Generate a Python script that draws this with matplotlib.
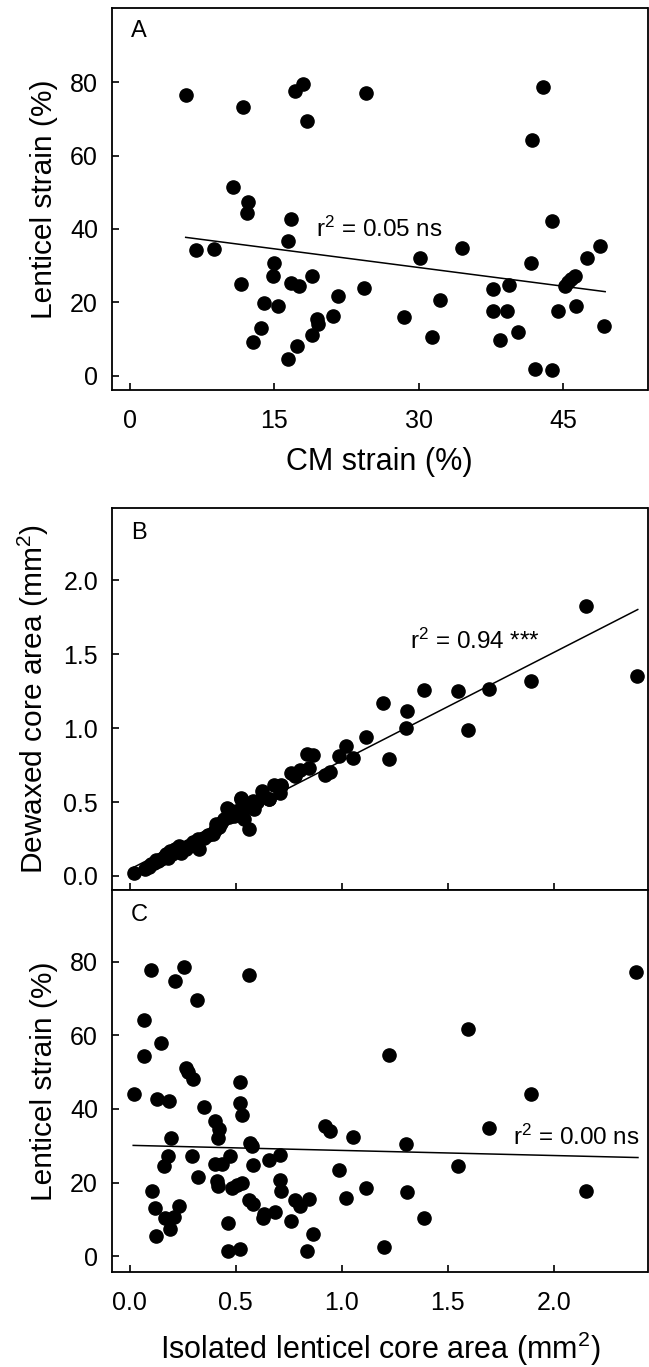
import matplotlib
matplotlib.use("Agg")
import matplotlib.pyplot as plt

plt.rcParams['font.family'] = ['Liberation Sans', 'DejaVu Sans']
plt.rcParams['mathtext.default'] = 'regular'

# Panel A: CM strain vs lenticel strain
a_cm = [5.8, 11.8, 17.2, 18.0, 18.4, 24.5, 42.9, 41.8, 10.7, 12.3, 12.2, 16.7, 43.9,
        16.4, 6.9, 8.7, 34.5, 48.9, 30.2, 47.5, 41.7, 15.0, 14.9, 18.9, 46.3, 45.9,
        45.5, 45.2, 11.5, 16.7, 17.6, 39.4, 37.7, 24.3, 21.6, 13.9, 15.4, 32.2, 46.4,
        37.7, 39.2, 44.5, 28.5, 21.1, 19.4, 19.5, 49.3, 13.6, 18.9, 40.3, 31.4, 38.5,
        12.8, 17.4, 16.4, 42.1, 43.9]
a_len = [76.6, 73.2, 77.7, 79.5, 69.5, 77.0, 78.6, 64.3, 51.3, 47.4, 44.2, 42.6, 42.2,
         36.6, 34.3, 34.4, 34.7, 35.3, 32.2, 32.2, 30.7, 30.6, 27.1, 27.2, 27.2, 26.3,
         25.4, 24.5, 24.9, 25.2, 24.5, 24.6, 23.5, 23.8, 21.6, 19.9, 18.9, 20.6, 19.0,
         17.7, 17.7, 17.5, 15.9, 16.3, 15.4, 14.2, 13.5, 13.0, 11.2, 12.0, 10.5, 9.6,
         9.3, 8.0, 4.6, 1.8, 1.5]
a_fit_x = [5.8, 49.4]
a_fit_y = [37.7, 22.9]

# Panel B: isolated vs dewaxed core area
b_iso = [2.151, 2.393, 1.894, 1.696, 1.548, 1.388, 1.195, 1.309, 1.302, 1.594, 1.113,
         1.019, 0.989, 1.055, 1.221, 0.836, 0.865, 0.844, 0.803, 0.758, 0.781, 0.923,
         0.943, 0.715, 0.679, 0.709, 0.625, 0.658, 0.580, 0.574, 0.523, 0.460,
         0.020, 0.070, 0.102, 0.125, 0.148, 0.172, 0.188, 0.211, 0.234, 0.242, 0.266,
         0.305, 0.320, 0.328, 0.352, 0.391, 0.406, 0.430, 0.445, 0.461, 0.492, 0.516,
         0.523, 0.539, 0.555, 0.563, 0.586, 0.656, 0.711,
         0.090, 0.115, 0.135, 0.160, 0.180, 0.200, 0.220, 0.250, 0.280, 0.300, 0.370,
         0.400, 0.420, 0.470, 0.500, 0.530, 0.570, 0.600]
b_dew = [1.830, 1.355, 1.317, 1.265, 1.249, 1.260, 1.172, 1.118, 1.000, 0.989, 0.943,
         0.882, 0.810, 0.799, 0.792, 0.828, 0.817, 0.733, 0.719, 0.697, 0.679, 0.686,
         0.706, 0.618, 0.618, 0.561, 0.577, 0.523, 0.509, 0.464, 0.525, 0.457,
         0.018, 0.045, 0.079, 0.108, 0.117, 0.146, 0.169, 0.185, 0.203, 0.158, 0.180,
         0.214, 0.248, 0.180, 0.259, 0.281, 0.349, 0.360, 0.383, 0.450, 0.405, 0.428,
         0.518, 0.383, 0.484, 0.315, 0.450, 0.518, 0.608,
         0.060, 0.090, 0.100, 0.130, 0.120, 0.150, 0.170, 0.190, 0.200, 0.230, 0.280,
         0.310, 0.330, 0.400, 0.440, 0.460, 0.470, 0.500]
b_fit_x = [0.02, 2.396]
b_fit_y = [0.06, 1.803]

# Panel C: isolated core area vs lenticel strain
c_iso = [0.102, 0.254, 0.214, 0.560, 0.316, 2.390, 0.069, 0.148, 0.069, 1.594, 1.221,
         0.267, 0.274, 0.298, 0.521, 0.020, 1.894, 0.129, 0.185, 0.519, 0.351, 0.529,
         0.401, 0.422, 0.415, 0.921, 0.943, 1.696, 1.055, 0.194, 0.569, 0.575, 1.302,
         0.180, 0.293, 0.709, 0.473, 0.656, 0.402, 0.437, 0.160, 0.582, 1.548, 0.989,
         0.320, 0.412, 0.415, 0.709, 0.715, 0.481, 0.506, 0.531, 0.104, 1.113, 1.307,
         2.151, 1.019, 0.560, 0.582, 0.781, 0.803, 0.844, 0.119, 0.231, 0.208, 0.165,
         0.188, 0.125, 0.626, 0.633, 0.686, 0.758, 1.388, 0.465, 0.864, 0.462, 0.522,
         0.834, 1.197]
c_len = [77.7, 78.6, 74.7, 76.5, 69.5, 77.1, 64.2, 57.8, 54.5, 61.7, 54.7, 51.1, 50.1,
         48.1, 47.4, 44.2, 44.1, 42.6, 42.3, 41.5, 40.5, 38.4, 36.6, 34.5, 32.1, 35.5,
         34.1, 34.7, 32.5, 32.2, 30.7, 30.0, 30.6, 27.3, 27.3, 27.5, 27.1, 26.1, 25.1,
         25.0, 24.4, 24.7, 24.6, 23.5, 21.6, 20.5, 19.1, 20.6, 17.6, 18.6, 19.4, 20.0,
         17.7, 18.5, 17.5, 17.7, 15.8, 15.3, 14.2, 15.3, 13.6, 15.5, 13.0, 13.5, 10.7,
         10.3, 7.5, 5.5, 10.3, 11.4, 12.0, 9.6, 10.5, 8.9, 6.1, 1.4, 1.9, 1.4, 2.4]
c_fit_x = [0.016, 2.397]
c_fit_y = [30.1, 26.8]

W, H = 649, 1367
fig = plt.figure(figsize=(W / 100, H / 100), dpi=100)

def box(top, bottom, left=112, right=647.5):
    return [left / W, 1 - bottom / H, (right - left) / W, (bottom - top) / H]

axA = fig.add_axes(box(8, 390))
axB = fig.add_axes(box(508, 890))
axC = fig.add_axes(box(890, 1272))

MS = 9.5
TICK_FS = 18
XLAB_FS = 22
YLAB_FS = 21.5
ANN_FS = 17.5
LET_FS = 17

for ax in (axA, axB, axC):
    for s in ax.spines.values():
        s.set_linewidth(1.3)
    ax.tick_params(direction='in', length=5.3, width=1.2, labelsize=TICK_FS)
    ax.tick_params(axis='y', pad=10)
    ax.tick_params(axis='x', pad=14)

# A
axA.plot(a_cm, a_len, 'o', color='black', ms=MS, mec='black')
axA.plot(a_fit_x, a_fit_y, '-', color='black', lw=1.1)
axA.set_xlim(-1.86, 53.8)
axA.set_ylim(-3.9, 100.2)
axA.set_xticks([0, 15, 30, 45])
axA.set_yticks([0, 20, 40, 60, 80])
axA.set_xlabel('CM strain (%)', fontsize=XLAB_FS, labelpad=10)
axA.set_ylabel('Lenticel strain (%)', fontsize=YLAB_FS, labelpad=9)
axA.text(19.3, 40.0, 'r$^2$ = 0.05 ns', fontsize=ANN_FS, ha='left', va='center')
axA.text(0.035, 0.94, 'A', transform=axA.transAxes, fontsize=LET_FS, ha='left', va='center')

# B
axB.plot(b_iso, b_dew, 'o', color='black', ms=MS, mec='black')
axB.plot(b_fit_x, b_fit_y, '-', color='black', lw=1.1)
axB.set_xlim(-0.084, 2.442)
axB.set_ylim(-0.095, 2.49)
axB.set_xticks([0.0, 0.5, 1.0, 1.5, 2.0])
axB.set_yticks([0.0, 0.5, 1.0, 1.5, 2.0])
axB.set_yticklabels(['0.0', '0.5', '1.0', '1.5', '2.0'])
axB.tick_params(axis='x', labelbottom=False)
axB.set_ylabel('Dewaxed core area (mm$^2$)', fontsize=YLAB_FS, labelpad=9)
axB.text(1.32, 1.587, 'r$^2$ = 0.94 ***', fontsize=ANN_FS, ha='left', va='center')
axB.text(0.035, 0.935, 'B', transform=axB.transAxes, fontsize=LET_FS, ha='left', va='center')

# C
axC.plot(c_iso, c_len, 'o', color='black', ms=MS, mec='black')
axC.plot(c_fit_x, c_fit_y, '-', color='black', lw=1.1)
axC.set_xlim(-0.084, 2.442)
axC.set_ylim(-4.3, 99.5)
axC.set_xticks([0.0, 0.5, 1.0, 1.5, 2.0])
axC.set_xticklabels(['0.0', '0.5', '1.0', '1.5', '2.0'])
axC.set_yticks([0, 20, 40, 60, 80])
axC.set_xlabel('Isolated lenticel core area (mm$^2$)', fontsize=XLAB_FS, labelpad=10)
axC.set_ylabel('Lenticel strain (%)', fontsize=YLAB_FS, labelpad=9)
axC.text(1.807, 32.2, 'r$^2$ = 0.00 ns', fontsize=ANN_FS, ha='left', va='center')
axC.text(0.035, 0.935, 'C', transform=axC.transAxes, fontsize=LET_FS, ha='left', va='center')

fig.savefig('out.png', dpi=100)
